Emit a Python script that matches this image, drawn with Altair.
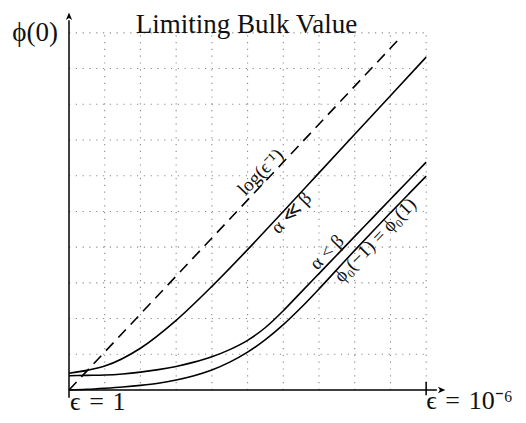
import altair as alt
import pandas as pd

# ---- data ----
grid_vals = [0, 1, 2, 3, 4, 5, 6, 7, 8, 9, 10]

log_x = [0, 9.31]
log_y = [0, 9.90]

ll_x = [0, 0.5, 1, 2, 3, 4, 5, 6, 7, 8, 9, 10]
ll_y = [0.47, 0.55, 0.67, 1.17, 1.95, 2.90, 3.93, 5.00, 6.08, 7.16, 8.24, 9.32]

lt_x = [0, 0.5, 1, 1.5, 2, 2.5, 3, 3.5, 4, 4.5, 5, 5.5, 6, 6.5, 7, 7.5, 8, 8.5, 9, 9.5, 10]
lt_y = [0.40, 0.41, 0.42, 0.45, 0.50, 0.57, 0.66, 0.78, 0.93, 1.13, 1.39, 1.75, 2.22,
        2.74, 3.26, 3.78, 4.30, 4.82, 5.34, 5.86, 6.38]

phi_x = [0, 0.5, 1, 1.5, 2, 2.5, 3, 3.5, 4, 4.5, 5, 5.5, 6, 6.5, 7, 7.5, 8, 8.5, 9, 9.5, 10]
phi_y = [0.0, 0.02, 0.05, 0.085, 0.13, 0.19, 0.28, 0.40, 0.56, 0.78, 1.06, 1.41, 1.83,
         2.31, 2.83, 3.37, 3.91, 4.44, 4.96, 5.475, 5.99]

curve_labels = ["log(ϵ⁻¹)", "α ≪ β", "α < β", "ϕ₀(−1) = ϕ₀(1)"]
curve_label_x = [5.36, 6.22, 7.22, 8.57]
curve_label_y = [6.10, 4.96, 3.86, 4.20]

title_text = "Limiting Bulk Value"
ylabel_text = "ϕ(0)"
xlabel_left = "ϵ\u2004=\u20041"
xlabel_right = "ϵ\u2004=\u200410⁻⁶"

FONT = "Liberation Serif"

xs = alt.Scale(domain=[0, 10.5], nice=False, zero=False)
ys = alt.Scale(domain=[0, 10.5], nice=False, zero=False)
X = lambda f: alt.X(f, scale=xs, axis=None)
Y = lambda f: alt.Y(f, scale=ys, axis=None)

# grid
vgrid = pd.DataFrame({"x": grid_vals[1:], "y": 0, "y2": 10})
hgrid = pd.DataFrame({"y": grid_vals[1:], "x": 0, "x2": 10})
g1 = alt.Chart(vgrid).mark_rule(color="#8a8a8a", strokeWidth=1.1, strokeDash=[1.2, 5.6]).encode(
    x=X("x:Q"), y=Y("y:Q"), y2="y2:Q")
g2 = alt.Chart(hgrid).mark_rule(color="#8a8a8a", strokeWidth=1.1, strokeDash=[1.2, 5.6]).encode(
    y=Y("y:Q"), x=X("x:Q"), x2="x2:Q")

# axes
yax = alt.Chart(pd.DataFrame({"x": [0], "y": [-0.22], "y2": [10.35]})).mark_rule(
    color="black", strokeWidth=1.5).encode(x=X("x:Q"), y=Y("y:Q"), y2="y2:Q")
xax = alt.Chart(pd.DataFrame({"y": [0], "x": [0], "x2": [10.3]})).mark_rule(
    color="black", strokeWidth=1.5).encode(y=Y("y:Q"), x=X("x:Q"), x2="x2:Q")
xtick = alt.Chart(pd.DataFrame({"x": [10], "y": [-0.15], "y2": [0.23]})).mark_rule(
    color="black", strokeWidth=1.5).encode(x=X("x:Q"), y=Y("y:Q"), y2="y2:Q")
arrow_path = "M0,-1 L0.75,0.75 L0,0.3 L-0.75,0.75 Z"
arrows = alt.Chart(pd.DataFrame({"x": [0, 10.42], "y": [10.45, 0], "a": [0, 90]})).mark_point(
    shape=arrow_path, filled=True, color="black", size=70, opacity=1).encode(
    x=X("x:Q"), y=Y("y:Q"), angle=alt.Angle("a:Q", scale=None))

# curves
dash = alt.Chart(pd.DataFrame({"x": log_x, "y": log_y})).mark_line(
    color="black", strokeWidth=1.6, strokeDash=[11, 7]).encode(x=X("x:Q"), y=Y("y:Q"))

curves_df = pd.concat([
    pd.DataFrame({"x": ll_x, "y": ll_y, "s": "ll"}),
    pd.DataFrame({"x": lt_x, "y": lt_y, "s": "lt"}),
    pd.DataFrame({"x": phi_x, "y": phi_y, "s": "phi"}),
])
curves = alt.Chart(curves_df).mark_line(color="black", strokeWidth=1.6, interpolate="monotone").encode(
    x=X("x:Q"), y=Y("y:Q"), detail="s:N", order="x:Q")

# curve labels
lab_df = pd.DataFrame({"x": curve_label_x, "y": curve_label_y, "t": curve_labels})
labels = alt.Chart(lab_df).mark_text(font=FONT, fontSize=19, angle=314, align="center",
                                     baseline="middle", color="#111").encode(
    x=X("x:Q"), y=Y("y:Q"), text="t:N")

title = alt.Chart(pd.DataFrame({"x": [4.97], "y": [10.0], "t": [title_text]})).mark_text(
    font=FONT, fontSize=27, align="center", baseline="alphabetic", color="#111").encode(
    x=X("x:Q"), y=Y("y:Q"), text="t:N")
ylab = alt.Chart(pd.DataFrame({"x": [-0.95], "y": [9.77], "t": [ylabel_text]})).mark_text(
    font=FONT, fontSize=27, align="center", baseline="alphabetic", color="#111").encode(
    x=X("x:Q"), y=Y("y:Q"), text="t:N")
xlab = alt.Chart(pd.DataFrame({"x": [0.03, 10.0], "y": [-0.56, -0.52], "t": [xlabel_left, xlabel_right]})).mark_text(
    font=FONT, fontSize=26, align="left", baseline="alphabetic", color="#111").encode(
    x=X("x:Q"), y=Y("y:Q"), text="t:N")

chart = alt.layer(g1, g2, dash, curves, yax, xax, xtick, arrows, labels, title, ylab, xlab).properties(
    width=375, height=375,
    autosize=alt.AutoSizeParams(type="none"),
    padding={"left": 61, "top": 7, "right": 74, "bottom": 25},
).configure_view(stroke=None)

chart.save("out.html", embed_options={"renderer": "svg", "actions": False})
